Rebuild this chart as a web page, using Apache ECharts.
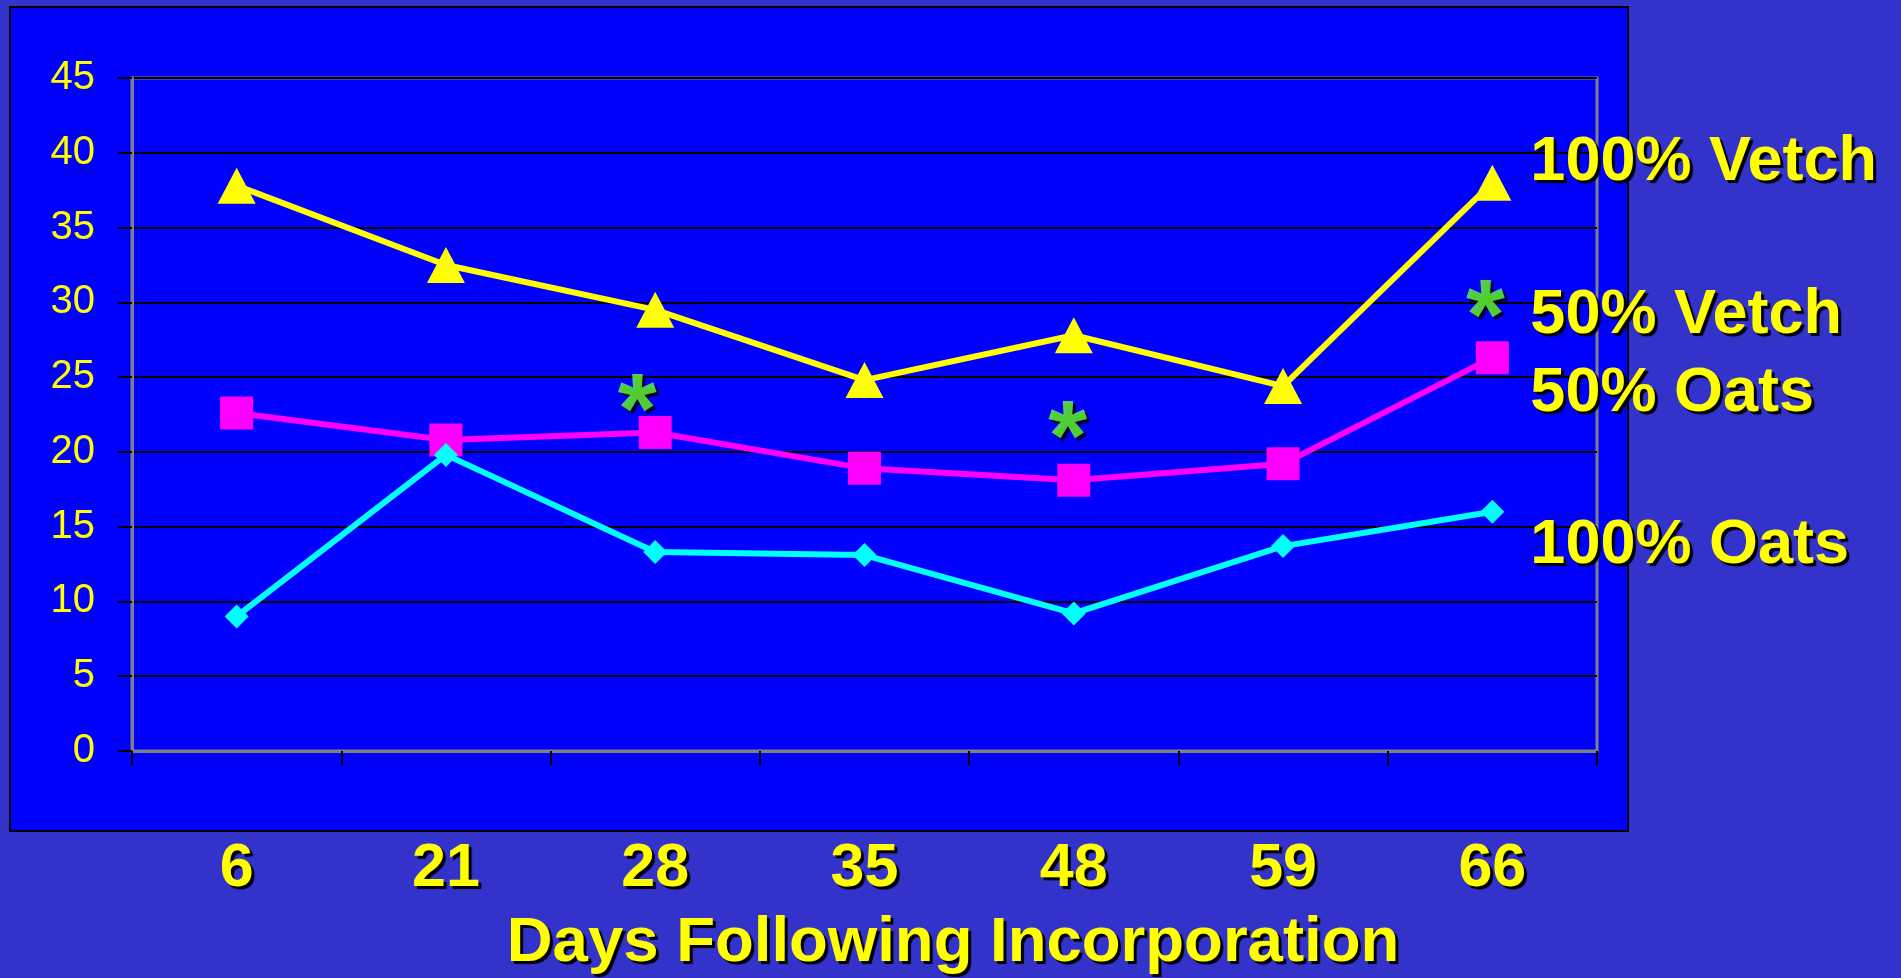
<!DOCTYPE html>
<html>
<head>
<meta charset="utf-8">
<script src="https://cdn.jsdelivr.net/npm/echarts@6/dist/echarts.min.js"></script>
<style>
html,body{margin:0;padding:0;background:#3333CC;}
#chart{width:1901px;height:978px;}
</style>
</head>
<body>
<div id="chart"></div>
<script>
const days = ['6', '21', '28', '35', '48', '59', '66'];
const vetch100 = [37.8, 32.5, 29.5, 24.8, 27.8, 24.4, 38.0];
const vetch50oats50 = [22.6, 20.8, 21.3, 18.9, 18.1, 19.2, 26.3];
const oats100 = [9.0, 19.8, 13.3, 13.1, 9.2, 13.7, 16.0];
const yTicks = [0, 5, 10, 15, 20, 25, 30, 35, 40, 45];
const asterisks = [['28', 24.1], ['48', 22.3], ['66', 30.4]];
const seriesNames = ['100% Vetch', '50% Vetch\n50% Oats', '100% Oats'];

const FONT = '"Liberation Sans", Arial, sans-serif';
const YEL = '#FFFF00';
const shadow = {textShadowColor: '#000', textShadowOffsetX: 3, textShadowOffsetY: 3, textShadowBlur: 1};
const asteriskShiftX = [-18, -6, -7];

function endLabel(text, dy, lh) {
  return Object.assign({
    show: true, formatter: text, color: YEL, fontFamily: FONT, fontWeight: 'bold',
    fontSize: 63, lineHeight: lh || 63, distance: 38, offset: [0, dy], align: 'left'
  }, shadow);
}

const chart = echarts.init(document.getElementById('chart'));
chart.setOption({
  backgroundColor: '#3333CC',
  animation: false,
  graphic: [{
    type: 'rect', z: -10, silent: true,
    shape: {x: 10, y: 7, width: 1618, height: 824},
    style: {fill: '#0000FF', stroke: '#000', lineWidth: 2}
  }],
  grid: {
    left: 132, top: 78, right: 304, bottom: 227,
    outerBoundsMode: 'none', containLabel: false,
    show: true, backgroundColor: '#0000FF', borderColor: '#808080', borderWidth: 3
  },
  xAxis: {
    type: 'category', data: days, boundaryGap: true,
    axisLine: {show: true, lineStyle: {color: '#808080', width: 3}},
    axisTick: {show: true, length: 14, lineStyle: {color: '#000', width: 2}},
    axisLabel: Object.assign({color: YEL, fontFamily: FONT, fontWeight: 'bold', fontSize: 61, margin: 88}, shadow),
    name: 'Days Following Incorporation', nameLocation: 'middle', nameGap: 160,
    nameTextStyle: Object.assign({color: YEL, fontFamily: FONT, fontWeight: 'bold', fontSize: 63.5, padding: [0, 0, 0, 177]}, shadow),
    splitLine: {show: false}
  },
  yAxis: {
    type: 'value', min: yTicks[0], max: yTicks[yTicks.length - 1], interval: 5,
    axisLine: {show: true, lineStyle: {color: '#808080', width: 3}},
    axisTick: {show: true, length: 14, lineStyle: {color: '#000', width: 2}},
    axisLabel: {color: YEL, fontFamily: FONT, fontSize: 40, margin: 37},
    splitLine: {show: true, lineStyle: {color: '#000', width: 2}}
  },
  series: [
    {
      name: seriesNames[0], type: 'line', data: vetch100,
      symbol: 'triangle', symbolSize: [38, 36],
      lineStyle: {color: YEL, width: 6}, itemStyle: {color: YEL},
      endLabel: endLabel(seriesNames[0], -20), z: 3
    },
    {
      name: seriesNames[1], type: 'line', data: vetch50oats50,
      symbol: 'rect', symbolSize: 33,
      lineStyle: {color: '#FF00FF', width: 6}, itemStyle: {color: '#FF00FF'},
      endLabel: endLabel(seriesNames[1], -3, 78), z: 3
    },
    {
      name: seriesNames[2], type: 'line', data: oats100,
      symbol: 'diamond', symbolSize: 24,
      lineStyle: {color: '#00FFFF', width: 6}, itemStyle: {color: '#00FFFF'},
      endLabel: endLabel(seriesNames[2], 34), z: 3
    },
    {
      name: 'significance', type: 'scatter',
      data: asterisks.map((d, i) => ({value: d, label: {offset: [asteriskShiftX[i], 25]}})),
      symbolSize: 1, itemStyle: {color: 'rgba(0,0,0,0)'},
      label: Object.assign({
        show: true, formatter: '*', position: 'inside', color: '#66FF33',
        fontFamily: FONT, fontWeight: 'bold', fontSize: 100, offset: [-8, 25]
      }, shadow), z: 4
    }
  ]
});
</script>
</body>
</html>
